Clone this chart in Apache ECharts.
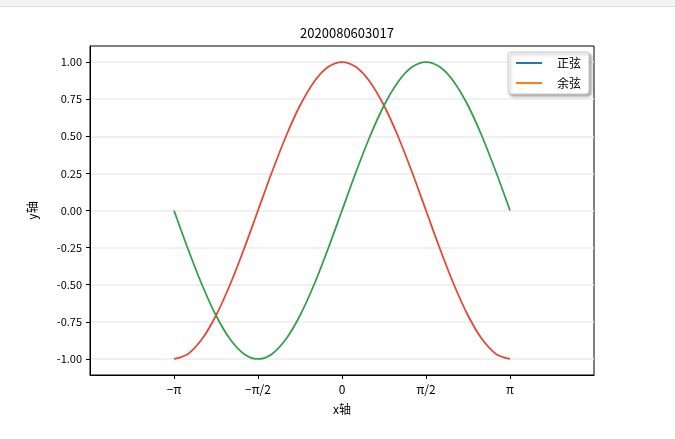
<!DOCTYPE html>
<html lang="zh">
  <head>
    <meta charset="UTF-8" />
    <title>2020080603017</title>
    <script src="https://cdn.jsdelivr.net/npm/echarts@6/dist/echarts.min.js"></script>
    <style>
      body { margin: 0; background: #fff; }
      #bar { position: absolute; left: 0; top: 0; width: 675px; height: 6px; background: #f3f3f3; border-bottom: 1px solid #ddd; }
      #main { width: 675px; height: 439px; }
    </style>
  </head>
  <body>
    <div id="bar"></div>
    <div id="main"></div>
    <script>
      // x in radians, step pi/12
      var xs = [-3.1416, -2.8798, -2.618, -2.3562, -2.0944, -1.8326, -1.5708, -1.309, -1.0472, -0.7854, -0.5236, -0.2618,
        0, 0.2618, 0.5236, 0.7854, 1.0472, 1.309, 1.5708, 1.8326, 2.0944, 2.3562, 2.618, 2.8798, 3.1416];
      var sinVals = [0, -0.259, -0.5, -0.707, -0.866, -0.966, -1, -0.966, -0.866, -0.707, -0.5, -0.259,
        0, 0.259, 0.5, 0.707, 0.866, 0.966, 1, 0.966, 0.866, 0.707, 0.5, 0.259, 0];
      var cosVals = [-1, -0.966, -0.866, -0.707, -0.5, -0.259, 0, 0.259, 0.5, 0.707, 0.866, 0.966,
        1, 0.966, 0.866, 0.707, 0.5, 0.259, 0, -0.259, -0.5, -0.707, -0.866, -0.966, -1];
      var xTicks = [-Math.PI, -Math.PI / 2, 0, Math.PI / 2, Math.PI];
      var xTickLabels = ["\u2212\u03c0", "\u2212\u03c0/2", "0", "\u03c0/2", "\u03c0"];
      var yTicks = [-1, -0.75, -0.5, -0.25, 0, 0.25, 0.5, 0.75, 1];

      function pairs(ys) {
        return xs.map(function (x, i) { return [x, ys[i]]; });
      }

      var font = "'Noto Sans CJK SC', 'DejaVu Sans', sans-serif";
      var chart = echarts.init(document.getElementById("main"));
      var axisLine = { show: true, onZero: false, lineStyle: { color: "#000", width: 1 } };

      chart.setOption({
        animation: false,
        textStyle: { fontFamily: font },
        title: {
          text: "2020080603017", left: 342, top: 22, textAlign: "center",
          textStyle: { fontSize: 13, fontWeight: "normal", color: "#000", fontFamily: font }
        },
        legend: {
          right: 86, top: 52, orient: "vertical", itemWidth: 26, itemHeight: 2, itemGap: 8,
          padding: [5, 8], backgroundColor: "#fff", borderColor: "#ccc", borderWidth: 1, borderRadius: 3,
          shadowColor: "rgba(0,0,0,0.35)", shadowBlur: 3, shadowOffsetX: 2, shadowOffsetY: 2,
          textStyle: { fontSize: 12, color: "#000", padding: [0, 0, 0, 10] },
          data: [
            { name: "正弦", icon: "rect", itemStyle: { color: "#1f77b4" } },
            { name: "余弦", icon: "rect", itemStyle: { color: "#ff7f0e" } }
          ]
        },
        grid: { left: 90, right: 81, top: 46, bottom: 64, show: true, borderColor: "#000", borderWidth: 1 },
        xAxis: {
          type: "value", min: -1.5 * Math.PI, max: 1.5 * Math.PI,
          name: "x轴", nameLocation: "middle", nameGap: 28, nameTextStyle: { color: "#000", fontSize: 12 },
          axisLine: axisLine, splitLine: { show: false },
          axisTick: { show: true, customValues: xTicks, length: 4, lineStyle: { color: "#000" } },
          axisLabel: {
            customValues: xTicks, color: "#000", fontSize: 12,
            formatter: function (v) {
              for (var i = 0; i < xTicks.length; i++) if (Math.abs(v - xTicks[i]) < 1e-6) return xTickLabels[i];
              return "";
            }
          }
        },
        yAxis: {
          type: "value", min: -1.108, max: 1.108,
          name: "y轴", nameLocation: "middle", nameGap: 52, nameTextStyle: { color: "#000", fontSize: 12 },
          axisLine: axisLine,
          axisTick: { show: true, customValues: yTicks, length: 4, lineStyle: { color: "#000" } },
          axisLabel: { customValues: yTicks, color: "#000", fontSize: 11, formatter: function (v) { return v.toFixed(2); } },
          splitLine: { show: true, customValues: yTicks, lineStyle: { color: "#ebebeb", width: 1.5 } }
        },
        series: [
          {
            name: "余弦", type: "line", smooth: 0.3, showSymbol: false, data: pairs(cosVals),
            itemStyle: { color: "#ff7f0e" }, lineStyle: { color: "#e24a33", width: 1.8 }
          },
          {
            name: "正弦", type: "line", smooth: 0.3, showSymbol: false, data: pairs(sinVals),
            itemStyle: { color: "#1f77b4" }, lineStyle: { color: "#34a04a", width: 1.8 }
          }
        ]
      });
    </script>
  </body>
</html>
